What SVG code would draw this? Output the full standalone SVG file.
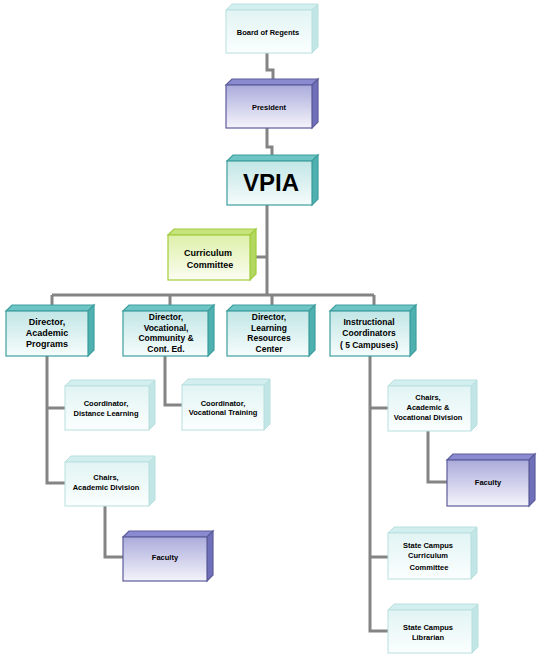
<svg xmlns="http://www.w3.org/2000/svg" width="540" height="661" viewBox="0 0 540 661">
<defs>
<linearGradient id="gLt" x1="0" y1="0" x2="0" y2="1"><stop offset="0" stop-color="#e2f4f4"/><stop offset="1" stop-color="#fbfefe"/></linearGradient>
<linearGradient id="gTl" x1="0" y1="0" x2="0" y2="1"><stop offset="0" stop-color="#c2e6e6"/><stop offset="1" stop-color="#f6fcfc"/></linearGradient>
<linearGradient id="gPu" x1="0" y1="0" x2="0" y2="1"><stop offset="0" stop-color="#ababdc"/><stop offset="1" stop-color="#f4f4fb"/></linearGradient>
<linearGradient id="gGr" x1="0" y1="0" x2="0" y2="1"><stop offset="0" stop-color="#def0aa"/><stop offset="1" stop-color="#fbfdf1"/></linearGradient>
<style>
.lt.front{fill:url(#gLt);stroke:#b9dfdf;stroke-width:1}
.lt.top{fill:#d3eeee;stroke:#b9dfdf;stroke-width:1}
.lt.side{fill:#c2e5e5;stroke:#b9dfdf;stroke-width:1}
.tl.front{fill:url(#gTl);stroke:#3f9e9e;stroke-width:1.2}
.tl.top{fill:#6cc4c4;stroke:#3f9e9e;stroke-width:1.2}
.tl.side{fill:#4fb0b0;stroke:#3f9e9e;stroke-width:1.2}
.pu.front{fill:url(#gPu);stroke:#5c5c9c;stroke-width:1.2}
.pu.top{fill:#8a8ad0;stroke:#5c5c9c;stroke-width:1.2}
.pu.side{fill:#7070ba;stroke:#5c5c9c;stroke-width:1.2}
.gr.front{fill:url(#gGr);stroke:#a2cd3e;stroke-width:1.2}
.gr.top{fill:#c6e37c;stroke:#a2cd3e;stroke-width:1.2}
.gr.side{fill:#b3d862;stroke:#a2cd3e;stroke-width:1.2}
text{font-family:"Liberation Sans",Arial,sans-serif;font-weight:bold;fill:#000;text-anchor:middle}
.s{font-size:7.5px}
.m{font-size:9px}
.n{font-size:8.5px}
.big{font-size:24px}
#connectors path{fill:none;stroke:#848484;stroke-width:3}
</style>
</defs>
<rect width="540" height="661" fill="#ffffff"/>
<g id="connectors">
<path d="M267 53V70H273V80"/>
<path d="M267 128V147H272V156"/>
<path d="M267 205V295"/>
<path d="M255 257H267"/>
<path d="M52 295H374"/>
<path d="M52 295V306"/>
<path d="M170 295V306"/>
<path d="M272 295V306"/>
<path d="M374 295V306"/>
<path d="M47 356V483H66"/>
<path d="M47 408H66"/>
<path d="M105 506V557H124"/>
<path d="M165 356V405H183"/>
<path d="M370 356V631H389"/>
<path d="M370 408H389"/>
<path d="M370 557H389"/>
<path d="M428 431V482H448"/>
</g>
<g id="board">
<polygon class="lt top" points="226,10 232,4 318,4 312,10"/>
<polygon class="lt side" points="312,10 318,4 318,47 312,53"/>
<rect class="lt front" x="226" y="10" width="86" height="43"/>
<text class="s" x="268" y="35">Board of Regents</text>
</g>
<g id="president">
<polygon class="pu top" points="226,85 232,79 318,79 312,85"/>
<polygon class="pu side" points="312,85 318,79 318,122 312,128"/>
<rect class="pu front" x="226" y="85" width="86" height="43"/>
<text class="s" x="269" y="110">President</text>
</g>
<g id="vpia">
<polygon class="tl top" points="227,161 233,155 318,155 312,161"/>
<polygon class="tl side" points="312,161 318,155 318,199 312,205"/>
<rect class="tl front" x="227" y="161" width="85" height="44"/>
<text class="big" x="271" y="191">VPIA</text>
</g>
<g id="curriculum">
<polygon class="gr top" points="168,235 174,229 256,229 250,235"/>
<polygon class="gr side" points="250,235 256,229 256,274 250,280"/>
<rect class="gr front" x="168" y="235" width="82" height="45"/>
<text class="m" x="208" y="256">Curriculum</text>
<text class="m" x="210" y="268">Committee</text>
</g>
<g id="dir-academic">
<polygon class="tl top" points="6,311 12,305 94,305 88,311"/>
<polygon class="tl side" points="88,311 94,305 94,350 88,356"/>
<rect class="tl front" x="6" y="311" width="82" height="45"/>
<text class="m" x="47" y="325">Director,</text>
<text class="m" x="47" y="336">Academic</text>
<text class="m" x="47" y="347">Programs</text>
</g>
<g id="dir-vocational">
<polygon class="tl top" points="123,311 129,305 214,305 208,311"/>
<polygon class="tl side" points="208,311 214,305 214,350 208,356"/>
<rect class="tl front" x="123" y="311" width="85" height="45"/>
<text class="n" x="166" y="320">Director,</text>
<text class="n" x="166" y="330.5">Vocational,</text>
<text class="n" x="166" y="341">Community &amp;</text>
<text class="n" x="166" y="351.5">Cont. Ed.</text>
</g>
<g id="dir-learning">
<polygon class="tl top" points="227,311 233,305 315,305 309,311"/>
<polygon class="tl side" points="309,311 315,305 315,350 309,356"/>
<rect class="tl front" x="227" y="311" width="82" height="45"/>
<text class="n" x="269" y="320">Director,</text>
<text class="n" x="269" y="330.5">Learning</text>
<text class="n" x="269" y="341">Resources</text>
<text class="n" x="269" y="351.5">Center</text>
</g>
<g id="instructional">
<polygon class="tl top" points="330,311 336,305 416,305 410,311"/>
<polygon class="tl side" points="410,311 416,305 416,350 410,356"/>
<rect class="tl front" x="330" y="311" width="80" height="45"/>
<text class="n" x="369" y="325">Instructional</text>
<text class="n" x="369" y="336">Coordinators</text>
<text class="n" x="369" y="348">( 5 Campuses)</text>
</g>
<g id="coord-distance">
<polygon class="lt top" points="65,386 71,380 155,380 149,386"/>
<polygon class="lt side" points="149,386 155,380 155,424 149,430"/>
<rect class="lt front" x="65" y="386" width="84" height="44"/>
<text class="s" x="106" y="406">Coordinator,</text>
<text class="s" x="106" y="416">Distance Learning</text>
</g>
<g id="chairs-academic">
<polygon class="lt top" points="65,462 71,456 155,456 149,462"/>
<polygon class="lt side" points="149,462 155,456 155,500 149,506"/>
<rect class="lt front" x="65" y="462" width="84" height="44"/>
<text class="s" x="106" y="480">Chairs,</text>
<text class="s" x="106" y="490">Academic Division</text>
</g>
<g id="faculty-left">
<polygon class="pu top" points="123,537 129,531 213,531 207,537"/>
<polygon class="pu side" points="207,537 213,531 213,575 207,581"/>
<rect class="pu front" x="123" y="537" width="84" height="44"/>
<text class="s" x="165" y="560">Faculty</text>
</g>
<g id="coord-vocational">
<polygon class="lt top" points="182,385 188,379 270,379 264,385"/>
<polygon class="lt side" points="264,385 270,379 270,424 264,430"/>
<rect class="lt front" x="182" y="385" width="82" height="45"/>
<text class="s" x="223" y="406">Coordinator,</text>
<text class="s" x="223" y="415">Vocational Training</text>
</g>
<g id="chairs-acad-voc">
<polygon class="lt top" points="388,386 394,380 477,380 471,386"/>
<polygon class="lt side" points="471,386 477,380 477,425 471,431"/>
<rect class="lt front" x="388" y="386" width="83" height="45"/>
<text class="s" x="428" y="400">Chairs,</text>
<text class="s" x="428" y="410">Academic &amp;</text>
<text class="s" x="428" y="420">Vocational Division</text>
</g>
<g id="faculty-right">
<polygon class="pu top" points="447,460 453,454 535,454 529,460"/>
<polygon class="pu side" points="529,460 535,454 535,500 529,506"/>
<rect class="pu front" x="447" y="460" width="82" height="46"/>
<text class="s" x="488" y="485">Faculty</text>
</g>
<g id="state-curriculum">
<polygon class="lt top" points="388,533 394,527 477,527 471,533"/>
<polygon class="lt side" points="471,533 477,527 477,573 471,579"/>
<rect class="lt front" x="388" y="533" width="83" height="46"/>
<text class="s" x="428" y="548">State Campus</text>
<text class="s" x="428" y="558">Curriculum</text>
<text class="s" x="429" y="570">Committee</text>
</g>
<g id="state-librarian">
<polygon class="lt top" points="388,610 394,604 478,604 472,610"/>
<polygon class="lt side" points="472,610 478,604 478,647 472,653"/>
<rect class="lt front" x="388" y="610" width="84" height="43"/>
<text class="s" x="428" y="630">State Campus</text>
<text class="s" x="428" y="640">Librarian</text>
</g>
</svg>
